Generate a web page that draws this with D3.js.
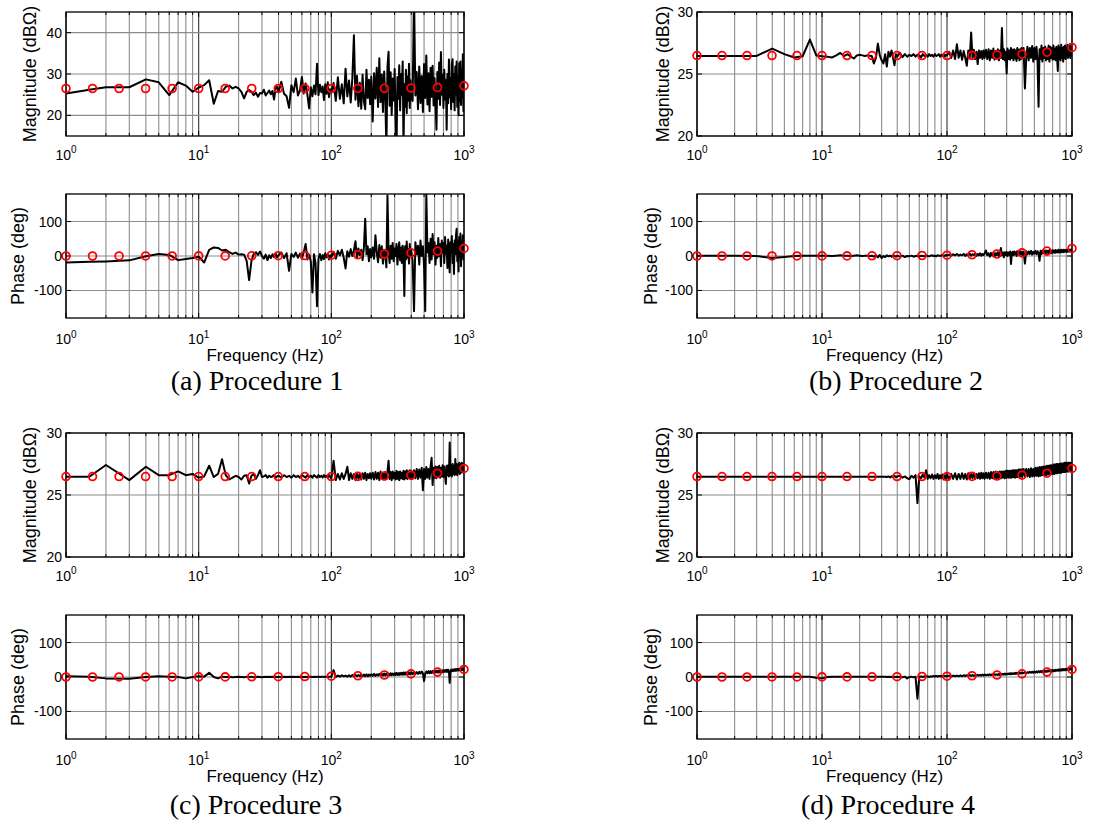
<!DOCTYPE html>
<html>
<head>
<meta charset="utf-8">
<script src="https://cdn.jsdelivr.net/npm/d3@7"></script>
<style>
  body { margin: 0; background: #fff; }
  svg { display: block; }
</style>
</head>
<body>
<svg id="fig" width="1113" height="822"></svg>
<script>
// Measured frequency bins (Hz), shared by every measured curve
const freqHz = [
  1, 1.5, 2, 3, 4, 5, 6, 7, 8, 9,
  10, 11, 12, 13, 14, 15, 16, 17, 18, 19,
  20, 21, 22, 23, 24, 25, 26, 27, 28, 29,
  30, 31, 32, 33, 34, 35, 36, 37, 38, 39,
  40, 42, 44, 46, 48, 50, 52, 54, 56, 58,
  60, 62, 64, 66, 68, 70, 72, 74, 76, 78,
  80, 82, 84, 86, 88, 90, 92, 94, 96, 98,
  100, 104, 108, 112, 116, 120, 124, 128, 132, 136,
  140, 144, 148, 152, 156, 160, 164, 168, 172, 176,
  180, 184, 188, 192, 196, 200, 205, 210, 215, 220,
  225, 230, 235, 240, 245, 250, 255, 260, 265, 270,
  275, 280, 285, 290, 295, 300, 305, 310, 315, 320,
  325, 330, 335, 340, 345, 350, 355, 360, 365, 370,
  375, 380, 385, 390, 395, 400, 410, 420, 430, 440,
  450, 460, 470, 480, 490, 500, 510, 520, 530, 540,
  550, 560, 570, 580, 590, 600, 610, 620, 630, 640,
  650, 660, 670, 680, 690, 700, 710, 720, 730, 740,
  750, 760, 770, 780, 790, 800, 810, 820, 830, 840,
  850, 860, 870, 880, 890, 900, 910, 920, 930, 940,
  950, 960, 970, 980, 990, 1000
];

// Procedure 1: magnitude (dBΩ) and phase (deg)
const magP1 = [
  25.3, 26.2, 26.8, 26.8, 28.7, 28.0, 24.9, 28.0, 27.2, 25.7,
  26.7, 27.3, 28.5, 22.8, 25.9, 25.7, 26.9, 27.2, 26.5, 26.9,
  26.5, 25.7, 24.1, 25.7, 26.1, 25.7, 24.9, 25.5, 24.5, 25.4,
  25.3, 26.2, 24.8, 25.4, 26.0, 25.1, 25.9, 23.8, 26.5, 26.9,
  25.6, 28.1, 25.2, 24.6, 21.8, 27.3, 25.6, 28.9, 24.8, 26.0,
  29.3, 25.3, 27.7, 25.0, 21.7, 26.8, 24.6, 27.2, 25.1, 32.5,
  24.9, 27.4, 25.6, 27.0, 23.7, 27.5, 25.2, 28.0, 24.4, 26.3,
  25.5, 27.8, 23.5, 29.2, 24.0, 27.5, 22.9, 31.3, 24.6, 28.4,
  23.1, 29.0, 39.4, 23.8, 29.6, 22.2, 27.9, 21.6, 29.8, 23.4,
  21.5, 31.0, 24.2, 28.6, 22.7, 29.4, 18.5, 30.2, 24.1, 31.5,
  22.0, 33.8, 23.2, 29.9, 20.8, 30.6, 24.5, 12.0, 31.8, 35.4,
  22.3, 30.4, 20.1, 28.9, 23.6, 31.2, 19.8, 12.0, 29.3, 24.0,
  32.1, 21.2, 30.0, 25.0, 33.0, 12.0, 27.5, 22.0, 31.0, 20.5,
  29.4, 23.5, 32.5, 21.8, 28.5, 24.0, 23.5, 50.0, 24.8, 30.5,
  21.5, 31.8, 23.0, 29.5, 20.8, 32.4, 24.2, 34.5, 22.6, 30.2,
  21.0, 31.5, 24.5, 32.0, 22.4, 29.0, 23.5, 16.5, 30.5, 24.0,
  32.8, 22.5, 35.3, 25.0, 29.8, 21.8, 31.0, 23.8, 28.6, 16.5,
  30.0, 22.9, 33.5, 24.4, 29.0, 21.5, 32.4, 33.6, 23.2, 30.0,
  21.2, 31.8, 25.0, 33.0, 22.0, 29.5, 20.0, 32.6, 23.4, 33.0,
  22.5, 30.8, 24.5, 34.8, 21.0, 28.0
];
const phP1 = [
  -18.6, -17, -15.7, -12.7, -1, 6, 3, -12, -9, -6,
  -2, -19, 18, 25, 23.5, 16, 18, 11, 6, 10,
  4, 5, 4, -14, -70, -14, 6, 11, 3, 13,
  0, -8, 4, -12, 2, -6, 5, -3, 8, -4,
  2, 10, -6, 8, -43, 6, -3, 10, -5, 7,
  -8, 12, 35, -10, 4, -15, -106, 5, -20, -146,
  -8, 6, -12, 3, -9, 8, -4, 5, -10, 2,
  -3, 12, -8, 15, 2, 18, -5, -36, 14, -2,
  20, 0, 16, 43, -6, 22, 2, 18, -12, 24,
  108, 5, 28, -15, 20, -4, 25, -8, 60, 10,
  -18, 32, -5, 28, -22, 18, 5, -33, 176, 12,
  -20, 30, -8, 38, -15, 22, 0, 35, -25, 15,
  40, -12, 25, -20, 30, 2, -116, 28, -10, 42,
  -5, 20, -22, 35, 0, 18, -15, -160, 40, 5,
  30, -25, 45, 0, 28, -30, -160, 180, 10, 38,
  -20, 50, -10, 64, 5, 40, -25, 30, -5, 52,
  0, 35, -30, 45, 10, 38, -20, 55, 5, 30,
  -35, 48, 0, -48, 40, 10, 58, -20, 35, -52,
  45, 5, 60, 79, -15, 42, -45, 55, 0, 65,
  -30, 40, 5, 60, -10, 30
];

// Procedure 2
const magP2 = [
  26.46, 26.46, 26.46, 26.46, 27.05, 26.6, 26.33, 26.43, 27.78, 26.5,
  26.43, 26.4, 26.33, 26.5, 26.7, 26.45, 26.6, 26.4, 26.25, 26.5,
  26.55, 26.5, 26.45, 26.5, 26.48, 26.45, 25.85, 26.3, 27.45, 26.5,
  26.1, 25.85, 26.6, 25.6, 26.8, 26.4, 26.9, 26.3, 25.7, 26.6,
  26.4, 26.7, 26.35, 26.6, 26.4, 26.55, 26.45, 26.6, 26.4, 26.55,
  26.5, 26.35, 26.6, 26.45, 26.55, 26.4, 26.6, 26.45, 26.55, 26.4,
  26.6, 26.45, 26.5, 26.6, 26.4, 26.55, 26.45, 26.6, 26.4, 26.55,
  26.5, 26.8, 26.3, 26.9, 26.2, 27.4, 26.3, 26.9, 26.15, 26.85,
  26.3, 25.66, 26.9, 26.25, 28.34, 26.3, 26.95, 26.2, 26.8, 25.8,
  26.9, 26.3, 26.85, 26.2, 26.9, 26.3, 26.95, 26.2, 27.0, 26.1,
  26.9, 26.3, 27.05, 26.15, 26.85, 26.25, 27.0, 26.1, 26.9, 26.3,
  28.7, 26.2, 27.0, 26.1, 26.8, 25.04, 27.05, 26.2, 26.9, 26.15,
  27.1, 26.3, 26.95, 26.1, 27.0, 26.25, 26.9, 26.05, 27.1, 26.3,
  26.95, 26.1, 27.0, 26.2, 27.1, 26.3, 27.1, 23.83, 26.2, 27.2,
  26.1, 27.1, 26.3, 27.25, 26.0, 27.1, 26.2, 27.2, 26.1, 22.36,
  27.0, 26.2, 27.3, 26.0, 27.1, 26.3, 27.2, 26.1, 27.0, 26.2,
  27.3, 26.0, 27.2, 26.3, 27.1, 26.15, 27.3, 26.2, 27.05, 26.1,
  27.2, 26.3, 25.25, 27.3, 26.2, 27.1, 26.1, 27.35, 26.3, 27.1,
  26.0, 27.2, 26.3, 27.3, 26.2, 27.1, 26.4, 27.35, 26.3, 27.2,
  26.5, 27.4, 26.3, 27.2, 26.6, 27.0
];
const phP2 = [
  1, 1, 1, 0, -6, -3, 0, 1, 1, 1,
  1, 1, 0, 1, 2, 1, 1, 0, 1, 2,
  1, 0, 1, 1, 0, 1, -2, 2, -4, 3,
  -6, 0, -3, 2, -1, 1, -2, 2, 0, -2,
  1, -2, 1, -3, 0, -1, 1, -2, 0, 1,
  -2, 1, 0, -1, 2, 0, -1, 1, 2, 0,
  1, -1, 2, 1, 0, 2, 1, 2, 0, 3,
  1, 4, 1, 5, 2, 6, 1, 4, 2, 6,
  0, 5, 2, 7, 1, 5, 3, 7, 0, 6,
  2, 8, 1, 6, 3, 7, 16, 2, 8, -2,
  9, 1, 10, -3, 8, 3, 11, -1, 9, 23,
  2, 10, -4, 11, 3, 12, 0, 10, 4, 13,
  -23, 8, 12, 2, 13, 5, 11, 0, 14, 6,
  12, 2, 14, 6, 12, 3, 13, -22, 14, 5,
  13, 6, 15, 4, 12, 7, 15, 5, 14, 8,
  -14, 15, 6, 16, 9, 14, 7, 16, 9, 15,
  8, 17, 10, 15, 8, 17, 10, 16, 9, 17,
  11, 16, 10, 18, 11, 17, 10, 18, 12, 17,
  11, 18, 12, 17, 13, 18, 12, 18, 13, 19,
  13, 18, 14, 19, 14, 16
];

// Procedure 3
const magP3 = [
  26.47, 26.47, 27.42, 26.2, 27.28, 26.6, 26.6, 26.9, 26.6, 26.7,
  26.4, 26.5, 27.36, 26.45, 26.7, 27.88, 26.6, 26.25, 26.4, 26.55,
  26.45, 26.25, 26.55, 26.6, 25.92, 26.55, 26.7, 26.3, 26.6, 27.0,
  26.45, 26.5, 26.6, 26.4, 26.55, 26.45, 26.5, 26.6, 26.4, 26.5,
  26.55, 26.4, 26.6, 26.45, 26.55, 26.4, 26.6, 26.45, 26.55, 26.4,
  26.6, 26.5, 26.4, 26.6, 26.45, 26.55, 26.4, 26.6, 26.5, 26.4,
  26.6, 26.45, 26.55, 26.4, 26.6, 26.45, 26.55, 26.4, 26.6, 26.45,
  26.3, 27.77, 26.2, 26.7, 26.25, 26.75, 26.3, 26.7, 27.28, 26.2,
  26.75, 26.3, 26.7, 26.2, 26.8, 26.3, 26.7, 26.25, 26.75, 26.3,
  26.8, 26.2, 26.7, 26.35, 26.75, 26.3, 26.8, 26.25, 26.85, 26.3,
  26.8, 26.2, 26.9, 26.3, 26.8, 26.25, 26.85, 26.3, 26.9, 27.77,
  26.3, 26.85, 26.2, 26.9, 26.35, 26.8, 26.25, 26.95, 26.3, 26.85,
  26.2, 26.9, 26.35, 26.8, 26.3, 26.95, 26.25, 26.9, 26.35, 27.0,
  26.3, 26.9, 26.4, 27.0, 26.3, 26.95, 26.3, 27.0, 26.35, 27.1,
  26.3, 27.05, 26.4, 27.2, 25.38, 27.1, 26.3, 27.25, 26.4, 27.1,
  26.3, 27.3, 28.0, 25.8, 27.2, 26.4, 27.3, 26.35, 27.25, 26.5,
  27.35, 26.4, 27.2, 26.5, 27.4, 26.45, 27.3, 26.5, 25.9, 27.35,
  26.6, 27.4, 26.5, 29.24, 26.6, 27.4, 26.5, 27.5, 26.7, 27.35,
  26.6, 27.9, 26.7, 27.5, 26.6, 27.45, 26.8, 27.6, 26.7, 27.5,
  26.8, 27.6, 26.9, 27.55, 26.8, 27.4
];
const phP3 = [
  2, 1, -4, -5, 0, 2, 1, 0, -4, 0,
  2, 1, 12, 0, -4, 1, 0, 1, -1, 0,
  1, 0, -1, 1, 0, 1, -1, 0, 1, 0,
  -1, 0, 1, 0, 1, 0, 1, 0, 1, 0,
  1, 0, 1, 0, 1, 0, 1, 0, 1, 0,
  1, 0, 1, 0, 1, 1, 0, 1, 0, 1,
  1, 0, 1, 1, 0, 1, 1, 0, 1, 1,
  1, 20, 0, 4, 1, 5, 2, 4, 1, 5,
  1, 6, 1, 6, 2, 6, 2, 7, 2, 7,
  2, 8, 2, 7, 3, 8, 3, 9, 3, 8,
  4, 9, 4, 9, 4, 10, 4, 10, 5, 10,
  5, 11, 5, 10, 6, 11, 6, 12, 6, 11,
  6, 12, 7, 12, 7, 13, 7, 13, 7, 13,
  8, 14, 8, 13, 8, 14, 8, 15, 9, 14,
  9, 15, 10, 16, 10, -12, 10, 16, 11, 17,
  11, 17, 12, 17, 12, 18, 13, 18, 13, 19,
  13, 19, 14, 19, 14, 20, 15, 20, 15, 21,
  15, 21, 16, -17, 16, 21, 17, 22, 17, 22,
  18, 23, 18, 23, 19, 23, 19, 24, 20, 24,
  20, 25, 20, 25, 21, 25
];

// Procedure 4
const magP4 = [
  26.47, 26.47, 26.47, 26.47, 26.47, 26.47, 26.47, 26.47, 26.47, 26.47,
  26.47, 26.47, 26.47, 26.47, 26.47, 26.47, 26.47, 26.47, 26.47, 26.47,
  26.47, 26.47, 26.47, 26.47, 26.47, 26.47, 26.47, 26.47, 26.47, 26.47,
  26.47, 26.47, 26.47, 26.45, 26.5, 26.42, 26.52, 26.45, 26.55, 26.42,
  26.5, 26.55, 26.4, 26.5, 26.35, 26.28, 26.55, 26.4, 26.6, 24.35,
  26.5, 26.35, 26.65, 26.4, 27.0, 26.3, 26.6, 26.35, 26.65, 26.3,
  26.6, 26.35, 26.7, 26.3, 26.6, 26.35, 26.65, 26.25, 26.6, 26.3,
  26.7, 26.25, 26.7, 26.3, 26.75, 26.25, 26.7, 26.3, 26.75, 26.3,
  26.7, 26.25, 26.75, 26.3, 26.7, 26.35, 26.75, 26.3, 26.7, 26.35,
  26.75, 26.3, 26.8, 26.35, 26.75, 26.3, 26.8, 26.35, 26.8, 26.3,
  26.85, 26.35, 26.85, 26.3, 26.9, 26.35, 26.85, 26.35, 26.9, 26.35,
  26.9, 26.4, 26.9, 26.35, 26.95, 26.4, 26.95, 26.4, 26.95, 26.4,
  26.95, 26.4, 27.0, 26.45, 27.0, 26.4, 27.0, 26.45, 27.0, 26.45,
  27.05, 26.45, 27.05, 26.5, 27.05, 26.45, 27.1, 26.5, 27.1, 26.5,
  27.1, 26.45, 27.15, 26.5, 27.1, 26.5, 27.2, 26.55, 27.2, 26.5,
  27.25, 26.55, 27.25, 26.6, 27.3, 26.6, 27.3, 26.6, 27.35, 26.65,
  27.35, 26.65, 27.4, 26.7, 27.4, 26.7, 27.45, 26.7, 27.45, 26.75,
  27.5, 26.75, 27.5, 26.8, 27.5, 26.8, 27.55, 26.8, 27.55, 26.85,
  27.55, 26.85, 27.6, 26.85, 27.6, 26.9, 27.6, 26.9, 27.6, 26.9,
  27.6, 26.95, 27.6, 26.95, 27.55, 27.1
];
const phP4 = [
  1, 1, 1, 1, 1, 1, 1, 1, 1, -2,
  -4, 0, 1, 1, 1, 1, 1, 1, 1, 1,
  1, 1, 1, 1, 1, 1, 1, 1, 1, 1,
  1, 1, 1, 0, 1, 0, 1, -1, 1, 0,
  1, 0, -1, 1, -4, 0, 1, -1, 1, -63,
  0, 2, 0, 2, 1, 2, 0, 2, 1, 3,
  1, 3, 1, 3, 2, 3, 1, 3, 2, 3,
  2, 4, 1, 4, 2, 4, 2, 5, 2, 5,
  3, 5, 3, 6, 3, 6, 3, 6, 4, 6,
  4, 6, 4, 7, 4, 7, 5, 7, 5, 8,
  5, 8, 5, 8, 6, 8, 6, 9, 6, 9,
  7, 9, 7, 10, 7, 10, 8, 10, 8, 11,
  8, 11, 9, 11, 9, 12, 9, 12, 10, 12,
  10, 12, 10, 13, 11, 13, 11, 14, 11, 14,
  12, 15, 12, 15, 12, 16, 13, 16, 13, 17,
  14, 17, 14, 18, 14, 18, 15, 18, 15, 19,
  16, 19, 16, 20, 16, 20, 17, 20, 17, 21,
  18, 21, 18, 22, 18, 22, 19, 22, 19, 23,
  20, 23, 20, 23, 20, 24, 21, 24, 21, 25,
  21, 25, 22, 25, 22, 24
];

// Reference model response (red circles), five points per decade
const modelFreq = [1, 1.585, 2.512, 3.981, 6.31, 10, 15.85, 25.12, 39.81, 63.1, 100, 158.5, 251.2, 398.1, 631, 1000];
const modelMag = [26.49, 26.49, 26.49, 26.49, 26.49, 26.49, 26.49, 26.49, 26.49, 26.49, 26.49, 26.5, 26.53, 26.6, 26.76, 27.14];
const modelPhase = [0.02, 0.04, 0.06, 0.09, 0.15, 0.23, 0.36, 0.58, 0.92, 1.45, 2.3, 3.64, 5.77, 9.08, 14.2, 21.9];

// Axis ticks and labels
const freqTicks = [1, 10, 100, 1000];
const magTicksWide = [20, 30, 40];
const magTicksNarrow = [20, 25, 30];
const phaseTicks = [-100, 0, 100];
const captions = ["(a) Procedure 1", "(b) Procedure 2", "(c) Procedure 3", "(d) Procedure 4"];
const magLabel = "Magnitude (dBΩ)";
const phaseLabel = "Phase (deg)";
const freqLabel = "Frequency (Hz)";

const svg = d3.select("#fig");
const SANS = "'Liberation Sans', Arial, Helvetica, sans-serif";
const SERIF = "'Liberation Serif', 'Times New Roman', serif";

// Page layout of the four figure blocks
const layout = [
  { mag: magP1, ph: phP1, domain: [15, 45], ticks: magTicksWide,   left: 66,  right: 464,  top: 12,  capX: 257, capY: 390, magLabOff: 30, phLabOff: 42 },
  { mag: magP2, ph: phP2, domain: [20, 30], ticks: magTicksNarrow, left: 697, right: 1072, top: 12,  capX: 896, capY: 390, magLabOff: 28, phLabOff: 40.5 },
  { mag: magP3, ph: phP3, domain: [20, 30], ticks: magTicksNarrow, left: 66,  right: 464,  top: 433, capX: 256, capY: 814, magLabOff: 30, phLabOff: 42 },
  { mag: magP4, ph: phP4, domain: [20, 30], ticks: magTicksNarrow, left: 697, right: 1072, top: 433, capX: 888, capY: 814, magLabOff: 28, phLabOff: 40.5 }
];
const plotH = 124;      // height of each axes box
const phaseGap = 182;   // offset from magnitude top to phase top

let clipId = 0;

function drawAxes(cfg) {
  const { left, right, top, bottom, domain, yTicks, series, model, yLabel, yLabOff, tickOff, showXLabel } = cfg;
  const x = d3.scaleLog().domain([1, 1000]).range([left, right]);
  const y = d3.scaleLinear().domain(domain).range([bottom, top]);
  const g = svg.append("g");

  const id = "clip" + (clipId++);
  svg.append("clipPath").attr("id", id)
    .append("rect").attr("x", left).attr("y", top).attr("width", right - left).attr("height", bottom - top);

  // grid: every log tick vertically, major ticks horizontally
  const xAll = x.ticks();
  g.append("g").selectAll("line").data(xAll).join("line")
    .attr("x1", d => x(d)).attr("x2", d => x(d))
    .attr("y1", top).attr("y2", bottom)
    .attr("stroke", d => freqTicks.includes(d) ? "#333" : "#8c8c8c")
    .attr("stroke-width", 1.1);
  g.append("g").selectAll("line").data(yTicks).join("line")
    .attr("x1", left).attr("x2", right)
    .attr("y1", d => y(d)).attr("y2", d => y(d))
    .attr("stroke", "#8c8c8c").attr("stroke-width", 1.1);

  // inward tick marks on all four sides
  const tk = g.append("g").attr("stroke", "#000").attr("stroke-width", 1);
  xAll.forEach(d => {
    const len = freqTicks.includes(d) ? 5 : 3;
    tk.append("line").attr("x1", x(d)).attr("x2", x(d)).attr("y1", bottom).attr("y2", bottom - len);
    tk.append("line").attr("x1", x(d)).attr("x2", x(d)).attr("y1", top).attr("y2", top + len);
  });
  yTicks.forEach(d => {
    tk.append("line").attr("x1", left).attr("x2", left + 5).attr("y1", y(d)).attr("y2", y(d));
    tk.append("line").attr("x1", right).attr("x2", right - 5).attr("y1", y(d)).attr("y2", y(d));
  });

  // measured response
  const pts = freqHz.map((f, i) => [f, series[i]]);
  const line = d3.line().x(d => x(d[0])).y(d => y(d[1]));
  g.append("path").datum(pts)
    .attr("clip-path", `url(#${id})`)
    .attr("d", line)
    .attr("fill", "none").attr("stroke", "#000")
    .attr("stroke-width", 2).attr("stroke-linejoin", "round");

  // axes box
  g.append("rect").attr("x", left).attr("y", top)
    .attr("width", right - left).attr("height", bottom - top)
    .attr("fill", "none").attr("stroke", "#000").attr("stroke-width", 1.3);

  // model response markers
  g.append("g").selectAll("circle").data(modelFreq.map((f, i) => [f, model[i]])).join("circle")
    .attr("cx", d => x(d[0])).attr("cy", d => y(d[1])).attr("r", 3.9)
    .attr("fill", "none").attr("stroke", "#ff0000").attr("stroke-width", 1.8);

  // y tick labels
  g.append("g").selectAll("text").data(yTicks).join("text")
    .attr("x", left - 4).attr("y", d => y(d)).attr("dy", "0.36em")
    .attr("text-anchor", "end").attr("font-family", SANS).attr("font-size", 14)
    .text(d => d);

  // x tick labels as powers of ten
  const xl = g.append("g").selectAll("text").data(freqTicks).join("text")
    .attr("x", d => x(d)).attr("y", bottom + tickOff)
    .attr("text-anchor", "middle").attr("font-family", SANS).attr("font-size", 14);
  xl.append("tspan").text("10");
  xl.append("tspan").attr("dy", -6.5).attr("font-size", 10).text(d => Math.round(Math.log10(d)));

  // axis titles
  g.append("text")
    .attr("transform", `translate(${left - yLabOff},${(top + bottom) / 2}) rotate(-90)`)
    .attr("text-anchor", "middle").attr("font-family", SANS).attr("font-size", 18)
    .text(yLabel);
  if (showXLabel) {
    g.append("text").attr("x", (left + right) / 2).attr("y", bottom + 42.5)
      .attr("text-anchor", "middle").attr("font-family", SANS).attr("font-size", 17)
      .text(freqLabel);
  }
}

layout.forEach((p, i) => {
  drawAxes({
    left: p.left, right: p.right, top: p.top, bottom: p.top + plotH,
    domain: p.domain, yTicks: p.ticks, series: p.mag, model: modelMag,
    yLabel: magLabel, yLabOff: p.magLabOff, tickOff: 23.5, showXLabel: false
  });
  drawAxes({
    left: p.left, right: p.right, top: p.top + phaseGap, bottom: p.top + phaseGap + plotH,
    domain: [-180, 180], yTicks: phaseTicks, series: p.ph, model: modelPhase,
    yLabel: phaseLabel, yLabOff: p.phLabOff, tickOff: 26, showXLabel: true
  });
  svg.append("text").attr("x", p.capX).attr("y", p.capY)
    .attr("text-anchor", "middle").attr("font-family", SERIF).attr("font-size", 28)
    .text(captions[i]);
});
</script>
</body>
</html>
